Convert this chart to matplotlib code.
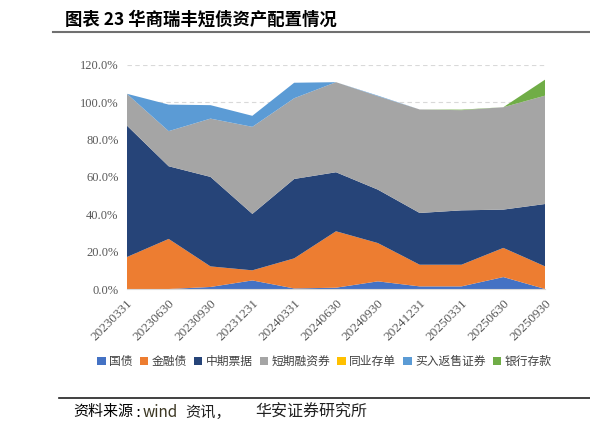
import numpy as np
import matplotlib
matplotlib.use("Agg")
from matplotlib import pyplot as plt

plt.rcParams['font.family'] = ['Noto Sans CJK SC', 'DejaVu Sans']

dates = ['20230331', '20230630', '20230930', '20231231', '20240331', '20240630',
         '20240930', '20241231', '20250331', '20250630', '20250930']
names = ['国债', '金融债', '中期票据', '短期融资券', '同业存单', '买入返售证券', '银行存款']
guozhai = [0, 0, 1.1, 4.6, 0.3, 0.7, 4.1, 1.4, 1.4, 6.4, 0]
jinrong = [17.1, 26.8, 11.0, 5.4, 16.1, 30.2, 20.5, 11.6, 11.6, 15.6, 12.1]
zhongpiao = [70.4, 38.9, 47.9, 30.2, 42.5, 31.6, 28.6, 27.7, 29.1, 20.5, 33.4]
duanrong = [17.0, 18.8, 31.2, 46.6, 43.2, 48.2, 50.0, 55.4, 53.6, 54.8, 58.0]
tongye = [0, 0, 0, 0, 0, 0, 0, 0, 0, 0, 0]
fanshou = [0, 14.2, 7.2, 5.9, 8.3, 0, 0.3, 0, 0, 0, 0]
yinhang = [0, 0, 0, 0, 0, 0, 0, 0, 0.3, 0, 8.6]
colors = ['#4472C4', '#ED7D31', '#264478', '#A5A5A5', '#FFC000', '#5B9BD5', '#70AD47']

fig = plt.figure(figsize=(5.9, 4.32), dpi=100)
ax = fig.add_axes([0.215, 0.331, 0.709, 0.519])

x = np.arange(len(dates))
ax.stackplot(x, guozhai, jinrong, zhongpiao, duanrong, tongye, fanshou, yinhang,
             colors=colors, labels=names, linewidth=0, zorder=2)

ax.set_xlim(0, len(dates) - 1)
ax.set_ylim(0, 120)
yt = np.arange(0, 121, 20)
ax.set_yticks(yt)
ax.set_yticklabels([f'{v:.1f}%' for v in yt], family='Liberation Serif', fontsize=9, color='#595959')
ax.set_xticks(x)
ax.set_xticklabels(dates, rotation=45, ha='right', rotation_mode='anchor',
                   family='Liberation Serif', fontsize=9.5, color='#595959')
ax.tick_params(length=0, pad=6)
ax.grid(axis='y', color='#D9D9D9', linestyle=(0, (4, 3)), linewidth=0.8, zorder=1)
for s in ['top', 'right', 'left']:
    ax.spines[s].set_visible(False)
ax.spines['bottom'].set_color('#D9D9D9')

handles, labels = ax.get_legend_handles_labels()
fig.legend(handles, labels, loc='center', bbox_to_anchor=(0.55, 0.163), ncol=7,
           frameon=False, fontsize=8.5, handlelength=0.7, handleheight=0.7,
           handletextpad=0.3, columnspacing=0.6, labelcolor='#404040')

fig.text(0.11, 0.955, '图表 23 华商瑞丰短债资产配置情况', fontsize=12.5, fontweight='bold',
         va='center', ha='left')
fig.add_artist(plt.Line2D([0.09, 1.0], [0.925, 0.925], color='#707070', linewidth=1.5))
fig.add_artist(plt.Line2D([0.1, 1.0], [0.079, 0.079], color='#202020', linewidth=1.2))

# source line
W = 590.0
ys = 0.046
fig.text(73 / W, ys, '资料来源', fontsize=10.8, va='center', ha='left')
fig.text(135 / W, ys, ':', fontsize=11, va='center', ha='left', family='DejaVu Sans')
fig.text(143 / W, ys, 'wind', fontsize=11, va='center', ha='left', color='#3a3520')
fig.text(185 / W, ys, '资讯，', fontsize=11, va='center', ha='left', color='#202020')
fig.text(255 / W, ys, '华安证券研究所', fontsize=11.5, va='center', ha='left', color='#202020')

plt.savefig('out.png', dpi=100)
